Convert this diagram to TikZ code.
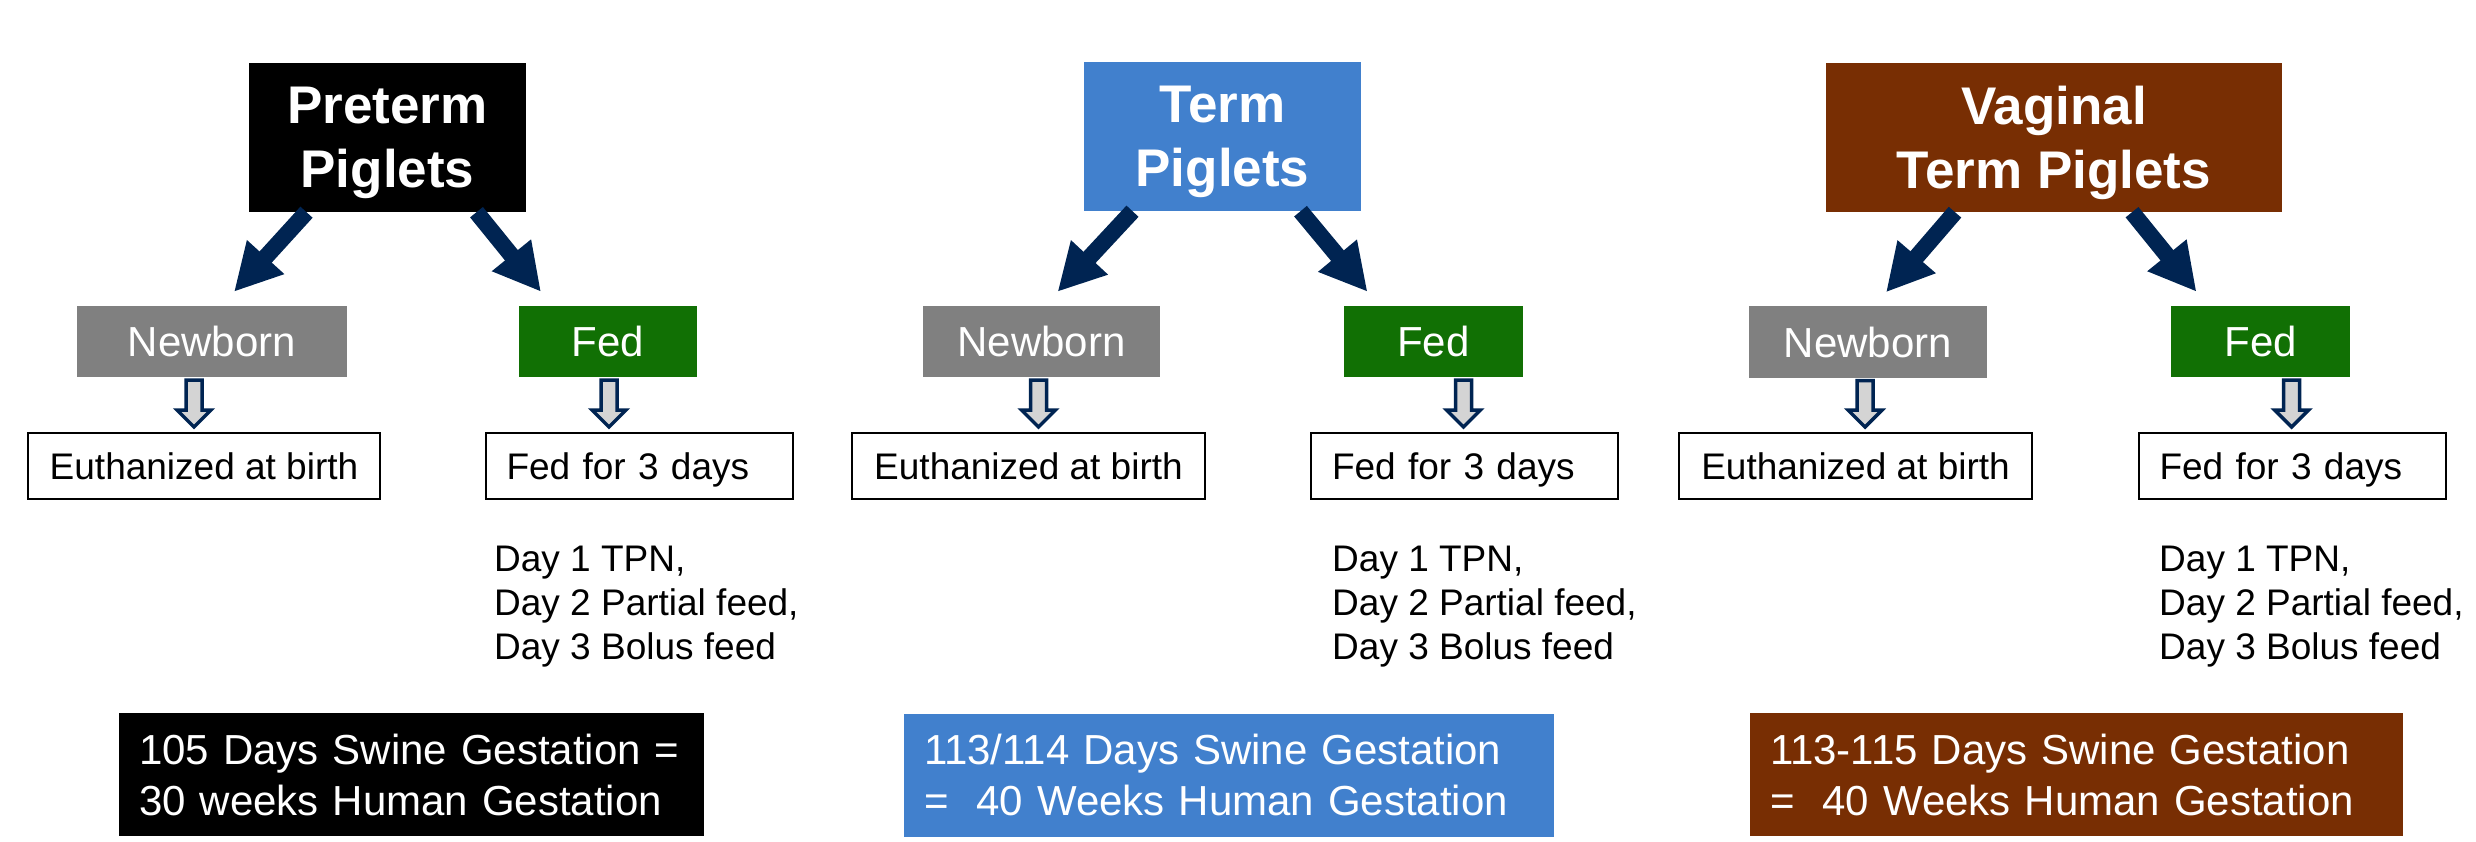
\documentclass[tikz,border=0pt]{standalone}
\usepackage{fontspec}
\setmainfont{Liberation Sans}
\usetikzlibrary{arrows.meta}

%Colours
\definecolor{termblue}{RGB}{65,128,205}
\definecolor{vagbrown}{RGB}{120,46,3}
\definecolor{fedgreen}{RGB}{17,112,4}
\definecolor{nbgray}{RGB}{128,128,128}
\definecolor{arrownavy}{RGB}{0,36,82}
\definecolor{hollowgray}{RGB}{212,212,212}

%Styles
\tikzset{
	headbox/.style={minimum height=149pt, inner sep=0pt, text=white, align=center, text depth=0pt, font=\fontsize{53}{64}\selectfont\bfseries},
	tagbox/.style={minimum height=71pt, inner sep=0pt, text=white, font=\fontsize{42}{50}\selectfont},
	resultbox/.style={draw=black, line width=2pt, minimum height=66pt, inner sep=0pt, text depth=0pt, font=\fontsize{37}{44}\selectfont},
	feedbox/.style={resultbox, text width=265pt, inner xsep=21pt, align=left},
	notetext/.style={anchor=west, inner sep=0pt, align=left, font=\fontsize{37}{44}\selectfont},
	gestbox/.style={minimum height=123pt, inner xsep=20pt, inner ysep=0pt, text=white, align=left, font=\fontsize{42}{51}\selectfont},
	bigarrow/.style={draw=arrownavy, line width=16.5pt, -{Triangle[length=47pt,width=47pt]}},
	hollowarrow/.style={draw=arrownavy, fill=hollowgray, line width=3.5pt, line join=miter}
}

%Hollow arrow from #2 down to #3, shifted by #1
\newcommand\hollowdown[3][0]{%
	\path ([xshift=#1pt]#2.south) coordinate (hs) (hs |- #3.north) coordinate (he);
	\draw[hollowarrow] ([xshift=-8pt,yshift=-3pt]hs) -- ([xshift=-8pt,yshift=22pt]he) -- ([xshift=-17pt,yshift=22pt]he)
		-- ([yshift=5pt]he) -- ([xshift=17pt,yshift=22pt]he) -- ([xshift=8pt,yshift=22pt]he) -- ([xshift=8pt,yshift=-3pt]hs) -- cycle;
}

\begin{document}
\begin{tikzpicture}[x=1pt,y=-1pt]

	%Frame
	\useasboundingbox (0,0) rectangle (2476,842);

	%Preterm
	\node[headbox, fill=black, minimum width=277pt] (pre) at (387.5,137.5) {Preterm\\Piglets};
	\node[tagbox, fill=nbgray, minimum width=270pt] (nbA) at (212,341.5) {Newborn};
	\node[tagbox, fill=fedgreen, minimum width=178pt] (fedA) at (608,341.5) {Fed};
	\node[resultbox, minimum width=352pt] (euA) at (204,466) {Euthanized at birth};
	\node[feedbox] (ftA) at (639,466) {Fed for 3 days};
	\node[notetext] (dayA) at (494,607) {Day 1 TPN,\\Day 2 Partial feed,\\Day 3 Bolus feed};
	\node[gestbox, fill=black, text width=545pt] (gesA) at (411.5,774.5) {105 Days Swine Gestation =\\30 weeks Human Gestation};

	\draw[bigarrow] ([xshift=-81pt]pre.south) -- ([xshift=22pt,yshift=14pt]nbA.north);
	\draw[bigarrow] ([xshift=89pt]pre.south) -- ([xshift=-67pt,yshift=14pt]fedA.north);
	\hollowdown[-18]{nbA}{euA}
	\hollowdown[1]{fedA}{ftA}

	%Term
	\node[headbox, fill=termblue, minimum width=277pt] (term) at (1222.5,136.5) {Term\\Piglets};
	\node[tagbox, fill=nbgray, minimum width=237pt] (nbB) at (1041.5,341.5) {Newborn};
	\node[tagbox, fill=fedgreen, minimum width=179pt] (fedB) at (1433.5,341.5) {Fed};
	\node[resultbox, minimum width=353pt] (euB) at (1028.5,466) {Euthanized at birth};
	\node[feedbox] (ftB) at (1464.5,466) {Fed for 3 days};
	\node[notetext] (dayB) at (1332,607) {Day 1 TPN,\\Day 2 Partial feed,\\Day 3 Bolus feed};
	\node[gestbox, fill=termblue, text width=610pt] (gesB) at (1229,775) {113/114 Days Swine Gestation\\=\ \ 40 Weeks Human Gestation};

	\draw[bigarrow] ([xshift=-90pt]term.south) -- ([xshift=16pt,yshift=14pt]nbB.north);
	\draw[bigarrow] ([xshift=78pt]term.south) -- ([xshift=-66pt,yshift=14pt]fedB.north);
	\hollowdown[-3]{nbB}{euB}
	\hollowdown[30]{fedB}{ftB}

	%Vaginal
	\node[headbox, fill=vagbrown, minimum width=456pt] (vag) at (2054,137.5) {Vaginal\\Term Piglets};
	\node[tagbox, fill=nbgray, minimum width=238pt] (nbC) at (1868,342) {Newborn};
	\node[tagbox, fill=fedgreen, minimum width=179pt] (fedC) at (2260.5,341.5) {Fed};
	\node[resultbox, minimum width=353pt] (euC) at (1855.5,466) {Euthanized at birth};
	\node[feedbox] (ftC) at (2292,466) {Fed for 3 days};
	\node[notetext] (dayC) at (2159,607) {Day 1 TPN,\\Day 2 Partial feed,\\Day 3 Bolus feed};
	\node[gestbox, fill=vagbrown, text width=613pt] (gesC) at (2076.5,774.5) {113-115 Days Swine Gestation\\=\ \ 40 Weeks Human Gestation};

	\draw[bigarrow] ([xshift=-99pt]vag.south) -- ([xshift=18pt,yshift=14pt]nbC.north);
	\draw[bigarrow] ([xshift=78pt]vag.south) -- ([xshift=-64pt,yshift=14pt]fedC.north);
	\hollowdown[-3]{nbC}{euC}
	\hollowdown[31]{fedC}{ftC}

\end{tikzpicture}
\end{document}
